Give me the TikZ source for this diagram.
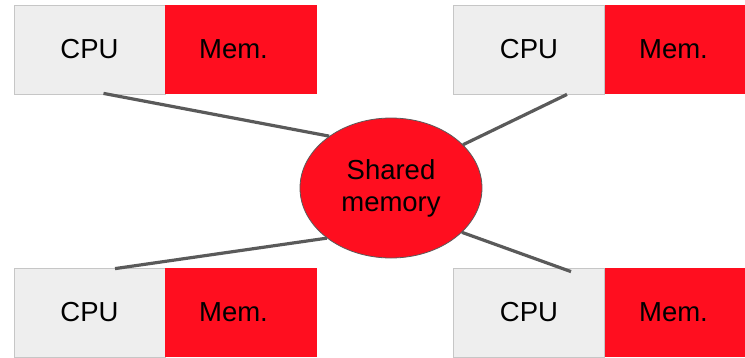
\documentclass[tikz,border=0pt]{standalone}
\usepackage{fontspec}
\setmainfont{Liberation Sans}
\usetikzlibrary{shapes.geometric,calc}
\definecolor{memred}{HTML}{FF0E1F}
\definecolor{cpugray}{HTML}{EEEEEE}
\definecolor{edgegray}{HTML}{C6C6C6}
\definecolor{linkgray}{HTML}{5A5A5A}
\tikzset{
  cpubox/.style={draw=edgegray, line width=0.8pt, fill=cpugray, minimum width=151pt, minimum height=89pt, inner sep=0pt},
  membox/.style={fill=memred, minimum width=152pt, minimum height=89pt, inner sep=0pt},
  boxtext/.style={font=\fontsize{27.5}{32}\selectfont},
  shared/.style={ellipse, draw=linkgray, line width=0.8pt, fill=memred, minimum width=182pt, minimum height=140pt, inner sep=0pt, align=center, font=\fontsize{27.5}{32}\selectfont},
  link/.style={draw=linkgray, line width=3.2pt}
}
\begin{document}
\begin{tikzpicture}[x=1pt, y=-1pt]
\useasboundingbox (0,0) rectangle (745,357);

% central shared memory
\node[shared] (sm) at (391,188) {Shared\\memory};

% four processors, each with local memory
\node[cpubox] (cpu1) at (89.5,49.5) {};
\node[membox] (mem1) at (241,49.5) {};
\node[boxtext] (cputext1) at (89.5,49.5) {CPU};
\node[boxtext] (memtext1) at (233.5,49.5) {Mem.};

\node[cpubox] (cpu2) at (529,49.5) {};
\node[membox] (mem2) at (681,49.5) {};
\node[boxtext] (cputext2) at (529,49.5) {CPU};
\node[boxtext] (memtext2) at (673.5,49.5) {Mem.};

\node[cpubox] (cpu3) at (89.5,312.5) {};
\node[membox] (mem3) at (241,312.5) {};
\node[boxtext] (cputext3) at (89.5,312.5) {CPU};
\node[boxtext] (memtext3) at (233.5,312.5) {Mem.};

\node[cpubox] (cpu4) at (529,312.5) {};
\node[membox] (mem4) at (681,312.5) {};
\node[boxtext] (cputext4) at (529,312.5) {CPU};
\node[boxtext] (memtext4) at (673.5,312.5) {Mem.};

% links to the shared memory
\draw[link] ([xshift=14pt,yshift=1pt]cpu1.south) -- (sm.140.7);
\draw[link] ([xshift=38pt]cpu2.south) -- (sm.31);
\draw[link] ([xshift=25.5pt,yshift=-1pt]cpu3.north) -- (sm.218.3);
\draw[link] ([xshift=42pt,yshift=-4pt]cpu4.north) -- (sm.328.6);
\end{tikzpicture}
\end{document}
